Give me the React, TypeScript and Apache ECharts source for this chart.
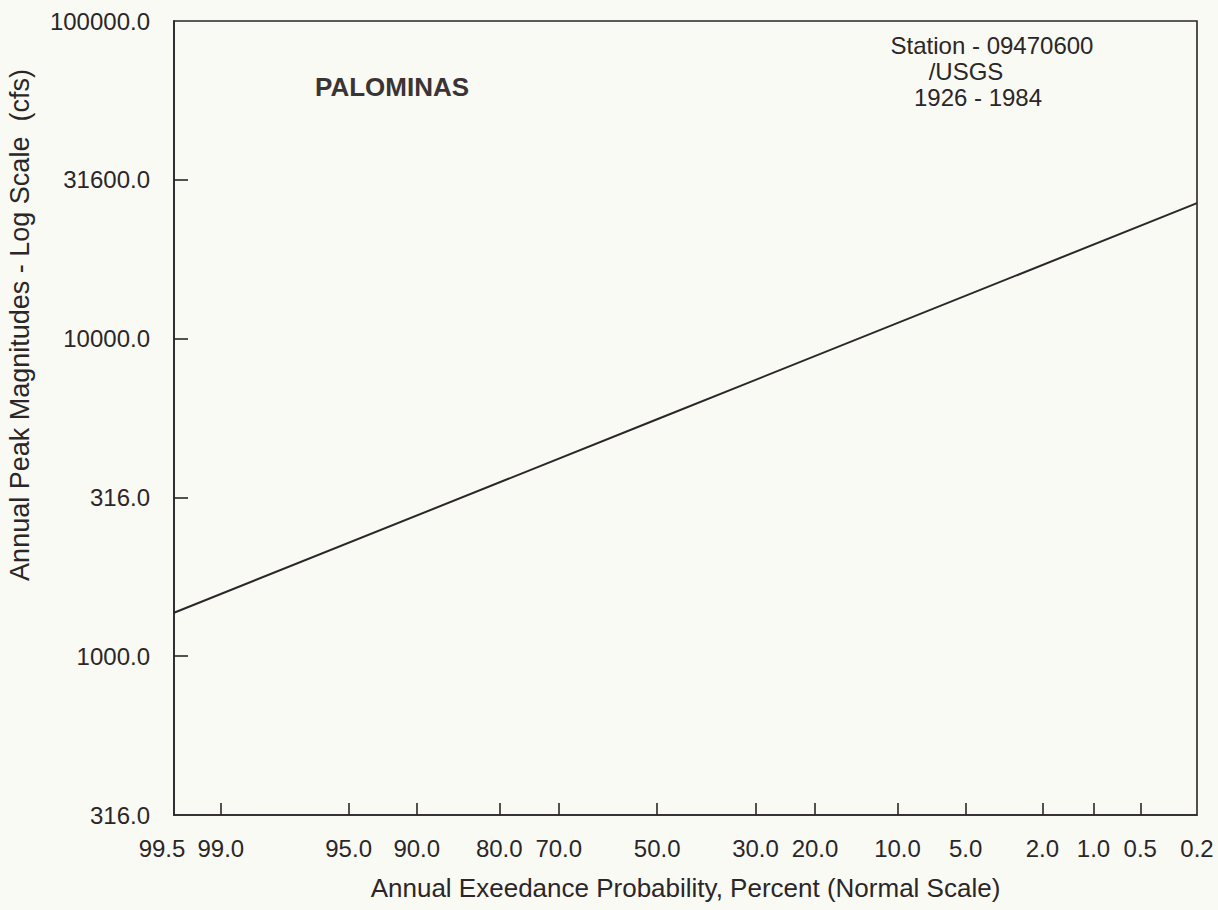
import React, { useEffect, useRef } from "react";
import * as echarts from "echarts";

// ---- data ----
const xTickProbabilities = [99.5, 99.0, 95.0, 90.0, 80.0, 70.0, 50.0, 30.0, 20.0, 10.0, 5.0, 2.0, 1.0, 0.5, 0.2];
const xTickLabels = ["99.5", "99.0", "95.0", "90.0", "80.0", "70.0", "50.0", "30.0", "20.0", "10.0", "5.0", "2.0", "1.0", "0.5", "0.2"];
const xTickMarks = [99.0, 95.0, 90.0, 80.0, 70.0, 50.0, 30.0, 20.0, 10.0, 5.0, 2.0, 1.0, 0.5];

const yTickValues = [316, 1000, 3160, 10000, 31600, 100000];
const yTickLabels = ["316.0", "1000.0", "316.0", "10000.0", "31600.0", "100000.0"];
const yTickMarks = [1000, 3160, 10000, 31600];

const lineProbabilities = [99.5, 50.0, 0.2];
const linePeaks = [1370, 5570, 26700];

// inverse standard normal CDF (Acklam)
function normInv(p: number): number {
  const a = [-3.969683028665376e1, 2.209460984245205e2, -2.759285104469687e2, 1.38357751867269e2, -3.066479806614716e1, 2.506628277459239];
  const b = [-5.447609879822406e1, 1.615858368580409e2, -1.556989798598866e2, 6.680131188771972e1, -1.328068155288572e1];
  const c = [-7.784894002430293e-3, -3.223964580411365e-1, -2.400758277161838, -2.549732539343734, 4.374664141464968, 2.938163982698783];
  const d = [7.784695709041462e-3, 3.224671290700398e-1, 2.445134137142996, 3.754408661907416];
  const pl = 0.02425;
  const ph = 1 - pl;
  if (p < pl) {
    const q = Math.sqrt(-2 * Math.log(p));
    return (((((c[0] * q + c[1]) * q + c[2]) * q + c[3]) * q + c[4]) * q + c[5]) / ((((d[0] * q + d[1]) * q + d[2]) * q + d[3]) * q + 1);
  }
  if (p <= ph) {
    const q = p - 0.5;
    const r = q * q;
    return ((((((a[0] * r + a[1]) * r + a[2]) * r + a[3]) * r + a[4]) * r + a[5]) * q) / (((((b[0] * r + b[1]) * r + b[2]) * r + b[3]) * r + b[4]) * r + 1);
  }
  const q = Math.sqrt(-2 * Math.log(1 - p));
  return -(((((c[0] * q + c[1]) * q + c[2]) * q + c[3]) * q + c[4]) * q + c[5]) / ((((d[0] * q + d[1]) * q + d[2]) * q + d[3]) * q + 1);
}

// exceedance percent -> normal-scale position
const zOf = (pct: number) => normInv(1 - pct / 100);

const FONT = "'Liberation Sans', Arial, Helvetica, sans-serif";
const INK = "#2b2628";

function nearestIndex(values: number[], val: number) {
  let best = 0;
  let bd = Infinity;
  values.forEach((z, i) => {
    const dd = Math.abs(z - val);
    if (dd < bd) {
      bd = dd;
      best = i;
    }
  });
  return best;
}

export default function App() {
  const ref = useRef<HTMLDivElement>(null);
  useEffect(() => {
    if (!ref.current) return;
    const chart = echarts.init(ref.current, undefined, { renderer: "svg" });
    const xZ = xTickProbabilities.map(zOf);
    const yL = yTickValues.map((v) => Math.log10(v));
    const labelStyle = { fontFamily: FONT, fontSize: 24, color: INK };
    chart.setOption({
      animation: false,
      backgroundColor: "#fafaf4",
      grid: {
        left: 174,
        right: 21,
        top: 21,
        bottom: 95,
        show: true,
        borderColor: INK,
        borderWidth: 1.6,
        backgroundColor: "transparent",
      },
      xAxis: {
        type: "value",
        min: zOf(99.5),
        max: zOf(0.2),
        name: "Annual Exeedance Probability, Percent (Normal Scale)",
        nameLocation: "middle",
        nameGap: 60,
        nameTextStyle: { fontFamily: FONT, fontSize: 26, color: INK },
        axisLine: { show: true, onZero: false, lineStyle: { color: INK, width: 1.6 } },
        axisTick: {
          show: true,
          inside: true,
          length: 12,
          customValues: xTickMarks.map(zOf),
          lineStyle: { color: INK, width: 1.6 },
        },
        axisLabel: {
          show: true,
          customValues: xZ,
          margin: 21,
          ...labelStyle,
          showMinLabel: true,
          showMaxLabel: true,
          rich: {
            first: { ...labelStyle, padding: [0, 24, 0, 0] },
            n: { ...labelStyle },
          },
          formatter: (val: number) => {
            const i = nearestIndex(xZ, val);
            return i === 0 ? `{first|${xTickLabels[i]}}` : `{n|${xTickLabels[i]}}`;
          },
        },
        splitLine: { show: false },
      },
      yAxis: {
        type: "value",
        min: Math.log10(316),
        max: 5,
        axisLine: { show: true, onZero: false, lineStyle: { color: INK, width: 1.6 } },
        axisTick: {
          show: true,
          inside: true,
          length: 14,
          customValues: yTickMarks.map((v) => Math.log10(v)),
          lineStyle: { color: INK, width: 1.6 },
        },
        axisLabel: {
          show: true,
          customValues: yL,
          margin: 24,
          ...labelStyle,
          showMinLabel: true,
          showMaxLabel: true,
          formatter: (val: number) => yTickLabels[nearestIndex(yL, val)],
        },
        splitLine: { show: false },
      },
      series: [
        {
          type: "line",
          data: lineProbabilities.map((p, i) => [zOf(p), Math.log10(linePeaks[i])]),
          showSymbol: false,
          lineStyle: { color: INK, width: 2 },
        },
      ],
      graphic: [
        {
          type: "text",
          x: 315,
          y: 87,
          style: {
            text: "PALOMINAS",
            fontFamily: FONT,
            fontSize: 26,
            fontWeight: "bold",
            fill: "#3a3436",
            textAlign: "left",
            textVerticalAlign: "middle",
          },
        },
        {
          type: "text",
          x: 992,
          y: 45,
          style: { text: "Station - 09470600", fontFamily: FONT, fontSize: 24, fill: INK, textAlign: "center", textVerticalAlign: "middle" },
        },
        {
          type: "text",
          x: 966,
          y: 71,
          style: { text: "/USGS", fontFamily: FONT, fontSize: 24, fill: INK, textAlign: "center", textVerticalAlign: "middle" },
        },
        {
          type: "text",
          x: 978,
          y: 97,
          style: { text: "1926 - 1984", fontFamily: FONT, fontSize: 24, fill: INK, textAlign: "center", textVerticalAlign: "middle" },
        },
        {
          type: "text",
          x: 20,
          y: 325,
          rotation: Math.PI / 2,
          style: {
            text: "Annual Peak Magnitudes - Log Scale  (cfs)",
            fontFamily: FONT,
            fontSize: 27,
            fill: INK,
            textAlign: "center",
            textVerticalAlign: "middle",
          },
        },
      ],
    });
    return () => chart.dispose();
  }, []);
  return <div ref={ref} style={{ position: "absolute", left: 0, top: 0, width: 1218, height: 910 }} />;
}
